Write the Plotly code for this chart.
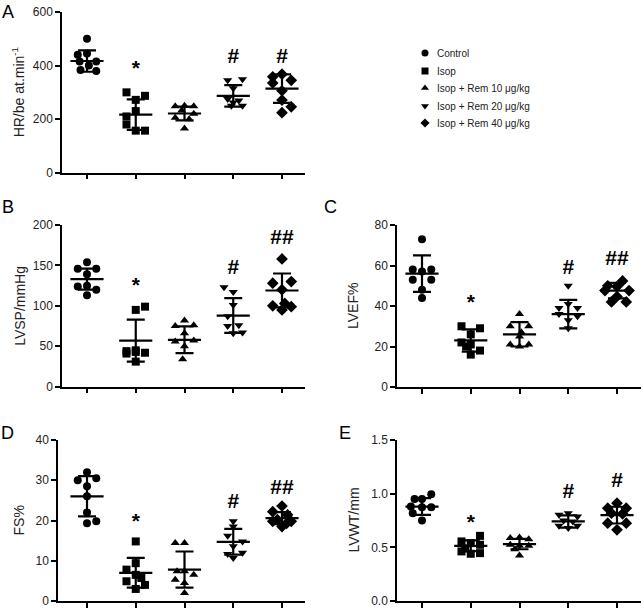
import plotly.graph_objects as go

# ---------------- data ----------------
groups = ["Control", "Isop", "Isop + Rem 10 μg/kg", "Isop + Rem 20 μg/kg", "Isop + Rem 40 μg/kg"]
symbols = ["circle", "square", "triangle-up", "triangle-down", "diamond"]

# Panel A: HR
hr_control = [500, 440, 445, 415, 400, 415, 383, 380]
hr_isop = [300, 287, 272, 230, 210, 180, 157, 157]
hr_rem10 = [248, 250, 248, 232, 220, 205, 200, 165]
hr_rem20 = [345, 349, 315, 275, 262, 270, 250, 250]
hr_rem40 = [358, 368, 345, 335, 306, 271, 246, 224]
hr_mean = [417, 217, 221, 287, 314]
hr_sd = [40, 57, 26, 40, 53]
hr_sig = ["", "*", "", "#", "#"]
hr_sig_y = [None, 384, None, 430, 430]

# Panel B: LVSP
lvsp_control = [154, 146, 146, 139, 124, 125, 120, 113]
lvsp_isop = [95, 99, 44, 45, 41, 43, 42, 31]
lvsp_rem10 = [82, 75, 76, 66, 56, 57, 50, 34]
lvsp_rem20 = [123, 117, 101, 87, 75, 76, 66, 67]
lvsp_rem40 = [158, 128, 130, 120, 100, 99, 95, 103]
lvsp_mean = [133, 57, 58, 88, 119]
lvsp_sd = [13, 26, 16.5, 21.5, 21]
lvsp_sig = ["", "*", "", "#", "##"]
lvsp_sig_y = [None, 124, None, 146, 183]

# Panel C: LVEF
lvef_control = [73, 58, 58, 57, 53, 53, 48, 44]
lvef_isop = [30, 29, 26, 22, 21, 18, 16, 20]
lvef_rem10 = [36, 30, 30, 25, 21, 21, 20, 27]
lvef_rem20 = [50, 39, 39, 41, 36, 35, 33, 29]
lvef_rem40 = [50, 52.4, 49.6, 47.6, 47.6, 42, 42, 44.7]
lvef_mean = [56, 23, 26, 36, 47.6]
lvef_sd = [9, 5.5, 6, 7, 3.8]
lvef_sig = ["", "*", "", "#", "##"]
lvef_sig_y = [None, 41, None, 58.6, 63]

# Panel D: FS
fs_control = [32, 30, 30.5, 28.5, 26, 22, 19.3, 19.8]
fs_isop = [14.8, 9.4, 7.8, 5.7, 4.9, 4.0, 3.0, 6.5]
fs_rem10 = [14.4, 14.4, 7.4, 7.4, 6.5, 5.3, 4.5, 2]
fs_rem20 = [19.8, 18.5, 16.2, 14.8, 13.6, 11.7, 12, 10.7]
fs_rem40 = [23.6, 22.2, 21.4, 20.2, 19.8, 19.8, 18.5, 19.3]
fs_mean = [26, 7, 7.8, 14.7, 20.6]
fs_sd = [5, 3.7, 4.5, 3.2, 1.5]
fs_sig = ["", "*", "", "#", "##"]
fs_sig_y = [None, 19.5, None, 24.3, 28]

# Panel E: LVWT
lvwt_control = [0.995, 0.951, 0.951, 0.88, 0.874, 0.874, 0.818, 0.75]
lvwt_isop = [0.607, 0.555, 0.539, 0.524, 0.462, 0.44, 0.446, 0.49]
lvwt_rem10 = [0.586, 0.592, 0.576, 0.524, 0.514, 0.514, 0.483, 0.425]
lvwt_rem20 = [0.818, 0.803, 0.787, 0.75, 0.741, 0.70, 0.679, 0.70]
lvwt_rem40 = [0.911, 0.865, 0.865, 0.818, 0.812, 0.725, 0.725, 0.663]
lvwt_mean = [0.88, 0.514, 0.53, 0.741, 0.80]
lvwt_sd = [0.078, 0.05, 0.048, 0.057, 0.078]
lvwt_sig = ["", "*", "", "#", "#"]
lvwt_sig_y = [None, 0.72, None, 1.004, 1.112]

# ---------------- layout helpers (positions / styles) ----------------
# horizontal scatter slots of each point (beeswarm layout), in slot units
jit = {
    "A": [[0, -1, 0, -0.8, 0.2, 1, -0.7, 1], [-1, 1, 0, 0, -1, -1, 0, 1], [-1, 0, 1, -0.3, 1, -1, 0.5, 0],
          [-0.6, 1, 0, -0.6, 0, 0.6, -0.2, 1], [-1, 0, 1, -1, 0, 0, 1, 0]],
    "B": [[0, -1, 1, 0, -1, 0, 1, 0], [0, 1, -1, 0, -1, 0, 1, 0], [0, -1, 1, 0, -1, 1, 0, -0.2],
          [-1, 0, 0, -0.6, -0.6, 0.6, 0, 1], [0, -1, 1, 0, -1, 1, 0, 0.3]],
    "C": [[0, -1, 1, 0, -1, 1, 0, 0], [-1, 1, 0, -1, 0, 1, 0, -0.5], [0, -1, 1, 0, -1, 1, 0, 0.2],
          [0, -1, 1, 0, -1, 1, 0, 0], [-1, 0.6, 0, -1.3, 1.3, -0.6, 1, 0]],
    "D": [[0, -1, 1, 0, 0, 0, 0, 1], [0, 0, -1, 0.6, -1, 1, 0, 0], [-1, 0, -0.8, 0, 1, -1, 0, 0],
          [0, 0, -0.6, 1, 0, -0.6, 1, 0], [0, -1, 0.6, -0.5, 1, -1, 0, 0.5]],
    "E": [[1, -0.8, 0, -1.2, 0, 1, -1, 0], [1, -1, 0, 1, -1, 0, 1, -0.6], [-1, 0, 1, -1, 0, 1, -0.5, 0],
          [0, -1, 1, -0.5, 0.5, -1, 0, 1], [0, -1, 1, -0.6, 0.6, -1, 1, 0]],
}
SLOT = 0.19

W, H = 644, 608
FONT = "Liberation Sans, Arial, Helvetica, sans-serif"

panels = [
    dict(key="A", ax="", data=[hr_control, hr_isop, hr_rem10, hr_rem20, hr_rem40], mean=hr_mean, sd=hr_sd,
         sig=hr_sig, sig_y=hr_sig_y, yr=[0, 600], dt=200, fmt="", title="HR/be at.min<sup>-1</sup>",
         xpx=(62, 305), ypx=(12, 172.7), tx=18, letter=(8, 12)),
    dict(key="B", ax="2", data=[lvsp_control, lvsp_isop, lvsp_rem10, lvsp_rem20, lvsp_rem40], mean=lvsp_mean,
         sd=lvsp_sd, sig=lvsp_sig, sig_y=lvsp_sig_y, yr=[0, 200], dt=50, fmt="", title="LVSP/mmHg",
         xpx=(62, 305), ypx=(225, 386.7), tx=20, letter=(8, 207)),
    dict(key="C", ax="3", data=[lvef_control, lvef_isop, lvef_rem10, lvef_rem20, lvef_rem40], mean=lvef_mean,
         sd=lvef_sd, sig=lvef_sig, sig_y=lvef_sig_y, yr=[0, 80], dt=20, fmt="", title="LVEF%",
         xpx=(397, 641), ypx=(225, 387), tx=353, letter=(330, 207)),
    dict(key="D", ax="4", data=[fs_control, fs_isop, fs_rem10, fs_rem20, fs_rem40], mean=fs_mean, sd=fs_sd,
         sig=fs_sig, sig_y=fs_sig_y, yr=[0, 40], dt=10, fmt="", title="FS%",
         xpx=(58, 305), ypx=(440, 601), tx=18, letter=(8, 433)),
    dict(key="E", ax="5", data=[lvwt_control, lvwt_isop, lvwt_rem10, lvwt_rem20, lvwt_rem40], mean=lvwt_mean,
         sd=lvwt_sd, sig=lvwt_sig, sig_y=lvwt_sig_y, yr=[0, 1.5], dt=0.5, fmt=".1f", title="LVWT/mm",
         xpx=(397, 641), ypx=(440, 601), tx=353, letter=(345, 433)),
]

CAT_PX = 48.75  # pixels per category

fig = go.Figure()
annotations = []
layout = {}

# legend overlay axis first (so that it sits underneath)
layout["xaxis6"] = dict(domain=[0, 1], range=[0, W], visible=False, fixedrange=True, automargin=False)
layout["yaxis6"] = dict(domain=[0, 1], range=[H, 0], visible=False, fixedrange=True, automargin=False)

for p in panels:
    xa = "x" + p["ax"]
    ya = "y" + p["ax"]
    for gi in range(5):
        vals = p["data"][gi]
        xs = [gi + j * SLOT for j in jit[p["key"]][gi]]
        fig.add_trace(go.Scatter(
            x=xs, y=vals, mode="markers", xaxis=xa, yaxis=ya, showlegend=False,
            marker=dict(symbol=symbols[gi], color="black", size=8 if gi != 4 else 9,
                        line=dict(width=0)),
            cliponaxis=False, hoverinfo="skip"))
        # mean line
        fig.add_trace(go.Scatter(
            x=[gi - 0.34, gi + 0.34], y=[p["mean"][gi]] * 2, mode="lines", xaxis=xa, yaxis=ya,
            line=dict(color="black", width=2.2), showlegend=False, hoverinfo="skip"))
        # SD error bar
        fig.add_trace(go.Scatter(
            x=[gi], y=[p["mean"][gi]], mode="markers", xaxis=xa, yaxis=ya,
            marker=dict(size=1, color="rgba(0,0,0,0)"),
            error_y=dict(type="data", array=[p["sd"][gi]], visible=True, color="black", thickness=2.2, width=9),
            showlegend=False, hoverinfo="skip"))
    # significance marks
    sx = [i for i in range(5) if p["sig"][i]]
    fig.add_trace(go.Scatter(
        x=sx, y=[p["sig_y"][i] for i in sx], text=[p["sig"][i] for i in sx], mode="text",
        xaxis=xa, yaxis=ya, textposition="middle center",
        textfont=dict(family=FONT, size=21, color="black", weight="bold"),
        showlegend=False, hoverinfo="skip", cliponaxis=False))

    x0, x1 = p["xpx"]
    ytop, ybot = p["ypx"]
    c0 = 87 if p["key"] in ("A", "B", "D") else 422
    left = -(c0 - x0) / CAT_PX
    right = 4 + (x1 - (c0 + 4 * CAT_PX)) / CAT_PX
    xname = "xaxis" + p["ax"]
    yname = "yaxis" + p["ax"]
    layout[xname] = dict(
        domain=[x0 / W, x1 / W], range=[left, right], anchor=ya, showgrid=False, zeroline=False,
        showline=True, linecolor="black", linewidth=1.5, ticks="outside", ticklen=5, tickwidth=1.5,
        tickcolor="black", tickvals=[0, 1, 2, 3, 4], showticklabels=False, fixedrange=True,
        automargin=False)
    ticks = []
    v = p["yr"][0]
    while v <= p["yr"][1] + 1e-9:
        ticks.append(round(v, 3))
        v += p["dt"]
    layout[yname] = dict(
        domain=[(H - ybot) / H, (H - ytop) / H], range=p["yr"], anchor=xa, showgrid=False, zeroline=False,
        showline=True, linecolor="black", linewidth=1.5, ticks="outside", ticklen=5, tickwidth=1.5,
        tickcolor="black", tickvals=ticks, tickformat=p["fmt"], automargin=False,
        ticklabeloverflow="allow",
        tickfont=dict(family=FONT, size=12, color="#222"), fixedrange=True)
    # y title
    annotations.append(dict(
        x=p["tx"] / W, y=(H - (ytop + ybot) / 2) / H, xref="paper", yref="paper", text=p["title"],
        textangle=-90, showarrow=False, xanchor="center", yanchor="middle",
        font=dict(family=FONT, size=14, color="#222")))
    # panel letter
    annotations.append(dict(
        x=p["letter"][0] / W, y=(H - p["letter"][1]) / H, xref="paper", yref="paper", text=p["key"],
        showarrow=False, xanchor="center", yanchor="middle",
        font=dict(family=FONT, size=18, color="black")))

# ---------------- manual legend ----------------
leg_x = 425
leg_y = [53, 71, 88, 106, 123]
for gi in range(5):
    fig.add_trace(go.Scatter(
        x=[leg_x], y=[leg_y[gi]], mode="markers", xaxis="x6", yaxis="y6", showlegend=False,
        marker=dict(symbol=symbols[gi], color="black", size=7), hoverinfo="skip"))
    annotations.append(dict(
        x=leg_x + 10, y=leg_y[gi], xref="x6", yref="y6", text=groups[gi], showarrow=False,
        xanchor="left", yanchor="middle", font=dict(family=FONT, size=10, color="#222")))

fig.update_layout(
    width=W, height=H, margin=dict(l=0, r=0, t=0, b=0, autoexpand=False),
    paper_bgcolor="white", plot_bgcolor="rgba(0,0,0,0)",
    annotations=annotations, showlegend=False,
    font=dict(family=FONT), **layout)

fig.write_html("out.html", config={"displayModeBar": False},
               post_script="document.body.style.margin='0';document.body.style.overflow='hidden';")
